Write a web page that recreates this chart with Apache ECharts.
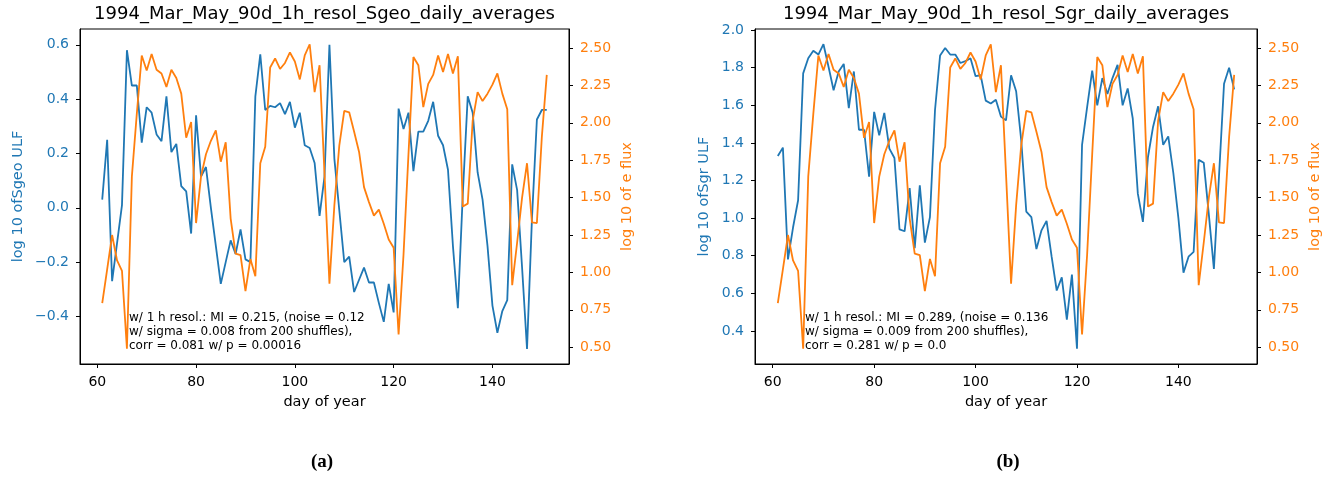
<!DOCTYPE html>
<html>
<head>
<meta charset="utf-8">
<script src="https://cdn.jsdelivr.net/npm/echarts@6/dist/echarts.min.js"></script>
<style>
html,body{margin:0;padding:0;background:#fff;}
#chart{width:1343px;height:479px;}
</style>
</head>
<body>
<div id="chart"></div>
<script>
const days = [61,62,63,64,65,66,67,68,69,70,71,72,73,74,75,76,77,78,79,80,81,82,83,84,85,86,87,88,89,90,
  91,92,93,94,95,96,97,98,99,100,101,102,103,104,105,106,107,108,109,110,111,112,113,114,115,116,117,118,119,120,
  121,122,123,124,125,126,127,128,129,130,131,132,133,134,135,136,137,138,139,140,141,142,143,144,145,146,147,148,149,150,151];

const sgeoULF = [0.03,0.25,-0.27,-0.13,0.01,0.58,0.45,0.45,0.24,0.37,
  0.35,0.27,0.245,0.41,0.205,0.235,0.08,0.06,-0.095,0.34,
  0.115,0.15,0.0,-0.14,-0.28,-0.2,-0.12,-0.17,-0.08,-0.19,
  -0.2,0.41,0.565,0.36,0.375,0.37,0.385,0.345,0.39,0.295,
  0.35,0.23,0.22,0.165,-0.03,0.115,0.6,0.18,-0.01,-0.2,
  -0.18,-0.31,-0.265,-0.22,-0.275,-0.275,-0.35,-0.42,-0.28,-0.385,
  0.365,0.29,0.35,0.135,0.28,0.28,0.32,0.39,0.265,0.23,
  0.14,-0.14,-0.37,0.05,0.41,0.35,0.13,0.03,-0.14,-0.36,
  -0.46,-0.38,-0.34,0.16,0.065,-0.22,-0.52,-0.04,0.325,0.36,
  0.36];

const sgrULF = [1.33,1.375,0.78,0.95,1.095,1.77,1.85,1.89,1.87,1.925,
  1.805,1.68,1.78,1.82,1.585,1.78,1.47,1.47,1.22,1.565,
  1.44,1.56,1.37,1.32,0.94,0.93,1.16,0.84,1.175,0.87,
  1.005,1.575,1.865,1.905,1.87,1.87,1.825,1.835,1.85,1.755,
  1.76,1.625,1.61,1.63,1.54,1.52,1.76,1.675,1.415,1.035,
  1.005,0.835,0.935,0.985,0.795,0.615,0.685,0.46,0.70,0.305,
  1.39,1.59,1.785,1.60,1.745,1.66,1.745,1.815,1.60,1.69,
  1.53,1.13,0.98,1.325,1.485,1.595,1.39,1.435,1.24,1.0,
  0.71,0.795,0.82,1.31,1.295,1.02,0.73,1.22,1.715,1.80,
  1.685];

const eFlux = [0.795,1.02,1.25,1.08,1.01,0.49,1.64,2.06,2.45,2.35,
  2.46,2.355,2.33,2.24,2.355,2.30,2.195,1.90,2.005,1.33,
  1.64,1.79,1.88,1.95,1.74,1.87,1.36,1.125,1.115,0.875,
  1.09,0.975,1.73,1.84,2.37,2.43,2.36,2.40,2.47,2.41,
  2.29,2.45,2.525,2.205,2.385,1.66,0.925,1.45,1.85,2.08,
  2.07,1.94,1.805,1.57,1.47,1.38,1.42,1.325,1.22,1.165,
  0.585,1.12,1.79,2.44,2.385,2.105,2.26,2.32,2.45,2.34,
  2.46,2.33,2.445,1.44,1.46,2.015,2.205,2.145,2.195,2.255,
  2.33,2.195,2.09,0.915,1.20,1.50,1.73,1.335,1.33,1.905,
  2.32];

const xTicks = [60,80,100,120,140];
const yTicksSgeo = [-0.4,-0.2,0.0,0.2,0.4,0.6];
const yTicksSgr = [0.4,0.6,0.8,1.0,1.2,1.4,1.6,1.8,2.0];
const yTicksFlux = [0.5,0.75,1.0,1.25,1.5,1.75,2.0,2.25,2.5];

const titles = ['1994_Mar_May_90d_1h_resol_Sgeo_daily_averages','1994_Mar_May_90d_1h_resol_Sgr_daily_averages'];
const leftNames = ['log 10 ofSgeo ULF','log 10 ofSgr ULF'];
const rightName = 'log 10 of e flux';
const notes = [
  'w/ 1 h resol.: MI = 0.215, (noise = 0.12\nw/ sigma = 0.008 from 200 shuffles),\ncorr = 0.081 w/ p = 0.00016',
  'w/ 1 h resol.: MI = 0.289, (noise = 0.136\nw/ sigma = 0.009 from 200 shuffles),\ncorr = 0.281 w/ p = 0.0'
];
const captions = ['(a)','(b)'];

const BLUE = '#1f77b4', ORANGE = '#ff7f0e';
const FONT = 'DejaVu Sans';
const pairs = vals => days.map((d,i)=>[d, vals[i]]);
const fmt = dec => v => v.toFixed(dec).replace('-', '\u2212');

function xAx(gi){
  return {type:'value', gridIndex:gi, min:56.5, max:155.5,
    name:'day of year', nameLocation:'middle', nameGap:31,
    nameTextStyle:{color:'#000', fontSize:14.5, fontFamily:FONT},
    axisLine:{show:true, onZero:false, lineStyle:{color:'#000', width:1}},
    axisTick:{show:true, length:4, customValues:xTicks, lineStyle:{color:'#000'}},
    axisLabel:{customValues:xTicks, color:'#000', fontSize:14, fontFamily:FONT, margin:11},
    splitLine:{show:false}};
}
function yAx(gi, pos, min, max, ticks, dec, color, name, gap){
  return {type:'value', gridIndex:gi, position:pos, min:min, max:max,
    name:name, nameLocation:'middle', nameGap:gap, nameRotate:90,
    nameTextStyle:{color:color, fontSize:14.5, fontFamily:FONT},
    axisLine:{show:true, onZero:false, lineStyle:{color:'#000', width:1}},
    axisTick:{show:true, length:4, customValues:ticks, lineStyle:{color:'#000'}},
    axisLabel:{customValues:ticks, color:color, fontSize:14, fontFamily:FONT, margin:11, formatter:fmt(dec)},
    splitLine:{show:false}};
}

const option = {
  animation:false,
  backgroundColor:'#fff',
  grid:[
    {left:80, right:774, top:29, bottom:115, show:true, borderColor:'#000', borderWidth:1, containLabel:false},
    {left:755, right:86, top:29, bottom:115, show:true, borderColor:'#000', borderWidth:1, containLabel:false}
  ],
  xAxis:[xAx(0), xAx(1)],
  yAxis:[
    yAx(0,'left',-0.575,0.658,yTicksSgeo,1,BLUE,leftNames[0],54),
    yAx(0,'right',0.388,2.627,yTicksFlux,2,ORANGE,rightName,51),
    yAx(1,'left',0.224,2.006,yTicksSgr,1,BLUE,leftNames[1],43),
    yAx(1,'right',0.388,2.627,yTicksFlux,2,ORANGE,rightName,51)
  ],
  series:[
    {type:'line', xAxisIndex:0, yAxisIndex:0, data:pairs(sgeoULF), showSymbol:false, lineStyle:{color:BLUE,width:1.8}, itemStyle:{color:BLUE}, z:2},
    {type:'line', xAxisIndex:0, yAxisIndex:1, data:pairs(eFlux), showSymbol:false, lineStyle:{color:ORANGE,width:1.8}, itemStyle:{color:ORANGE}, z:3},
    {type:'line', xAxisIndex:1, yAxisIndex:2, data:pairs(sgrULF), showSymbol:false, lineStyle:{color:BLUE,width:1.8}, itemStyle:{color:BLUE}, z:2},
    {type:'line', xAxisIndex:1, yAxisIndex:3, data:pairs(eFlux), showSymbol:false, lineStyle:{color:ORANGE,width:1.8}, itemStyle:{color:ORANGE}, z:3}
  ],
  graphic:[
    {type:'text', x:324.5, y:14, style:{text:titles[0], align:'center', verticalAlign:'middle', fill:'#000', font:'18px "DejaVu Sans"'}},
    {type:'text', x:1006, y:14, style:{text:titles[1], align:'center', verticalAlign:'middle', fill:'#000', font:'18px "DejaVu Sans"'}},
    {type:'text', x:129, y:311, style:{text:notes[0], align:'left', verticalAlign:'top', fill:'#000', font:'12px "DejaVu Sans"', lineHeight:14}},
    {type:'text', x:805, y:311, style:{text:notes[1], align:'left', verticalAlign:'top', fill:'#000', font:'12px "DejaVu Sans"', lineHeight:14}},
    {type:'text', x:322, y:462, style:{text:captions[0], align:'center', verticalAlign:'middle', fill:'#000', font:'bold 19px "Liberation Serif"'}},
    {type:'text', x:1008, y:462, style:{text:captions[1], align:'center', verticalAlign:'middle', fill:'#000', font:'bold 19px "Liberation Serif"'}}
  ]
};

const chart = echarts.init(document.getElementById('chart'), null, {renderer:'canvas'});
chart.setOption(option);
</script>
</body>
</html>
